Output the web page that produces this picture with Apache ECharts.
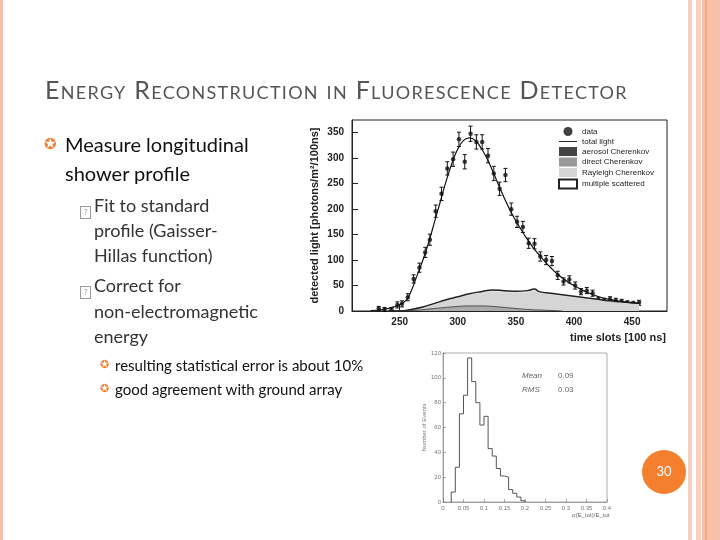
<!DOCTYPE html>
<html><head><meta charset="utf-8">
<script src="https://cdn.jsdelivr.net/npm/echarts@6/dist/echarts.min.js"></script>
<style>
body{margin:0;width:720px;height:540px;overflow:hidden;background:#fff;font-family:Lato,"Open Sans",sans-serif;}
#c{position:absolute;left:0;top:0;width:720px;height:540px;}
.t{position:absolute;white-space:nowrap;}
.bx{display:inline-block;width:9px;height:11px;border:1px solid #999;font-size:8px;line-height:11px;text-align:center;color:#999}
</style></head><body>
<div id="c"></div>
<div class="t" style="left:45px;top:74px;font-size:25px;font-variant:small-caps;color:#555;letter-spacing:1.3px">Energy Reconstruction in Fluorescence Detector</div>
<div class="t" style="left:44px;top:134px;font-size:15px;color:#F08030">✪</div>
<div class="t" style="left:65px;top:130px;font-size:20px;line-height:29px;color:#111">Measure longitudinal<br>shower profile</div>
<div class="t" style="left:80px;top:199px"><span class="bx">?</span></div>
<div class="t" style="left:94px;top:193px;font-size:18px;line-height:25px;color:#333">Fit to standard<br>profile (Gaisser-<br>Hillas function)</div>
<div class="t" style="left:80px;top:279px"><span class="bx">?</span></div>
<div class="t" style="left:94px;top:273px;font-size:18px;line-height:25.5px;color:#333">Correct for<br>non-electromagnetic<br>energy</div>
<div class="t" style="left:100px;top:357px;font-size:11px;color:#F08030">✪</div>
<div class="t" style="left:115px;top:353px;font-size:15px;line-height:24px;color:#111">resulting statistical error is about 10%<br>good agreement with ground array</div>
<div class="t" style="left:100px;top:381px;font-size:11px;color:#F08030">✪</div>
<script>
// main profile data
const dataX=[232,237,243,248,252,257,262,267,272,276,281,286,291,296,301,306,311,316,321,326,331,336,341,346,351,356,361,366,371,376,381,386,391,396,401,406,411,416,421,426,431,436,441,446,451,456];
const dataY=[5,3,3,12,14,27,63,85,115,140,196,230,280,298,337,293,348,332,332,305,270,240,267,200,175,165,133,132,107,100,98,70,58,62,50,38,40,35,22,20,23,20,18,15,14,16];
const dataErr=[4,4,4,6,6,7,8,9,10,11,12,13,13,14,14,14,15,14,14,14,14,13,13,12,11,11,10,10,9,9,9,8,7,7,7,6,6,6,5,5,5,5,5,5,5,5];
const fitX=[225,235,245,255,260,265,270,275,280,285,290,295,300,305,310,315,320,325,330,335,340,345,350,355,360,365,370,375,380,385,390,395,400,410,420,430,440,450,456];
const fitY=[1,3,8,20,40,70,100,135,175,215,255,290,318,335,340,335,320,300,275,248,222,198,177,158,140,124,110,97,85,74,65,57,50,38,29,23,19,16,15];
const scatX=[240,250,260,270,280,290,300,310,320,330,340,350,360,366,370,380,390,400,410,420,430,440,450,456];
const scatY=[0,0,3,8,15,22,28,34,38,41,40,39,40,43,38,35,32,29,26,23,20,18,16,15];
const directX=[240,260,280,300,310,320,330,340,350,360,370,380,390];
const directY=[0,1,5,9,10,10,9,7,5,3,2,1,0];
// histogram
const histEdges=[0.02,0.03,0.04,0.05,0.06,0.07,0.08,0.09,0.10,0.11,0.12,0.13,0.14,0.15,0.16,0.17,0.18,0.19,0.20];
const histCounts=[8,28,71,86,116,97,80,62,69,43,37,27,21,20,10,7,4,1];
const histTicks=[0,0.05,0.1,0.15,0.2,0.25,0.3,0.35,0.4];
const histYTicks=[0,20,40,60,80,100,120];
const mainXTicks=[250,300,350,400,450];

const pair=(xs,ys)=>xs.map((x,i)=>[x,ys[i]]);
const step=[];
step.push([histEdges[0],0]);
histCounts.forEach((v,i)=>{step.push([histEdges[i],v]);step.push([histEdges[i+1],v]);});
step.push([histEdges[histEdges.length-1],0]);

const ch=echarts.init(document.getElementById('c'));
const axisTxt={color:'#222',fontSize:10,fontWeight:'bold',fontFamily:'Liberation Sans'};
const lineIcon='path://M0,4.5L20,4.5L20,5.5L0,5.5Z';
ch.setOption({
 animation:false,
 graphic:[
  {type:'rect',shape:{x:0,y:0,width:3,height:540},style:{fill:'#F5C0AA'}},
  {type:'rect',shape:{x:688,y:0,width:4,height:540},style:{fill:'#F8D0C0'}},
  {type:'rect',shape:{x:696,y:0,width:5,height:540},style:{fill:'#F8D0C0'}},
  {type:'rect',shape:{x:702,y:0,width:18,height:540},style:{fill:'#F7C0A8'}},
  {type:'rect',shape:{x:705,y:0,width:2,height:540},style:{fill:'#F4A888'}},
  {type:'circle',shape:{cx:664,cy:472,r:22},style:{fill:'#F4802F'}},
  {type:'text',x:664,y:472,style:{text:'30',fill:'#fff',fontSize:13,align:'center',verticalAlign:'middle',fontFamily:'Lato'}},
  {type:'text',x:522,y:372,style:{text:'Mean',fill:'#666',fontSize:8,fontStyle:'italic',fontFamily:'Liberation Sans'}},
  {type:'text',x:558,y:372,style:{text:'0.09',fill:'#666',fontSize:8,fontFamily:'Liberation Sans'}},
  {type:'text',x:522,y:386,style:{text:'RMS',fill:'#666',fontSize:8,fontStyle:'italic',fontFamily:'Liberation Sans'}},
  {type:'text',x:558,y:386,style:{text:'0.03',fill:'#666',fontSize:8,fontFamily:'Liberation Sans'}},
  {type:'text',x:572,y:512,style:{text:'σ(E_tot)/E_tot',fill:'#666',fontSize:6,fontFamily:'Liberation Sans'}},
  {type:'text',x:666,y:338,style:{text:'time slots [100 ns]',fill:'#222',fontSize:11,fontWeight:'bold',align:'right',verticalAlign:'middle',fontFamily:'Liberation Sans'}}
 ],
 legend:{left:553,top:122,orient:'vertical',itemGap:1.5,itemWidth:18,itemHeight:9,
  textStyle:{fontSize:8,color:'#222',fontFamily:'Liberation Sans'},
  data:[{name:'data',icon:'circle'},{name:'total light',icon:lineIcon},{name:'aerosol Cherenkov',icon:'rect'},{name:'direct Cherenkov',icon:'rect'},{name:'Rayleigh Cherenkov',icon:'rect'},{name:'multiple scattered',icon:'rect'}]},
 grid:[{left:352,top:120,width:315,height:191,show:true,borderColor:'#222',borderWidth:1},
       {left:443,top:353,width:164,height:149,show:true,borderColor:'#777',borderWidth:0.6}],
 xAxis:[
  {gridIndex:0,type:'value',min:209,max:480,
   axisLine:{lineStyle:{color:'#222'}},splitLine:{show:false},
   axisTick:{inside:true,customValues:mainXTicks,length:6,lineStyle:{color:'#222'}},
   axisLabel:{...axisTxt,customValues:mainXTicks,margin:6}},
  {gridIndex:1,type:'value',min:0,max:0.4,interval:0.05,splitLine:{show:false},
   axisLine:{lineStyle:{color:'#777',width:0.6}},axisTick:{inside:true,length:3,lineStyle:{color:'#777',width:0.6}},
   axisLabel:{color:'#777',fontSize:6,margin:3,formatter:v=>v===0?'0':String(+v.toFixed(2))}}
 ],
 yAxis:[
  {gridIndex:0,type:'value',min:0,max:375,interval:50,name:'detected light [photons/m²/100ns]',nameLocation:'middle',nameGap:32,
   nameTextStyle:{fontSize:11,fontWeight:'bold',color:'#222',fontFamily:'Liberation Sans'},
   axisLine:{lineStyle:{color:'#222'}},splitLine:{show:false},
   axisTick:{inside:true,length:6,lineStyle:{color:'#222'}},axisLabel:{...axisTxt,margin:8,showMaxLabel:false}},
  {gridIndex:1,type:'value',min:0,max:120,interval:20,name:'Number of Events',nameLocation:'middle',nameGap:14,
   nameTextStyle:{fontSize:6,color:'#777'},splitLine:{show:false},
   axisLine:{lineStyle:{color:'#777',width:0.6}},axisTick:{inside:true,length:3,lineStyle:{color:'#777',width:0.6}},
   axisLabel:{color:'#777',fontSize:6,margin:2}}
 ],
 series:[
  {name:'multiple scattered',type:'line',xAxisIndex:0,yAxisIndex:0,data:pair(scatX,scatY),smooth:true,symbol:'none',
   lineStyle:{color:'#222',width:1.5},itemStyle:{color:'#fff',borderColor:'#222',borderWidth:1},areaStyle:{color:'#e2e2e2',opacity:1}},
  {name:'Rayleigh Cherenkov',type:'line',xAxisIndex:0,yAxisIndex:0,data:pair(scatX,scatY.map(v=>v*0.9)),smooth:true,symbol:'none',
   lineStyle:{width:0},itemStyle:{color:'#d5d5d5'},areaStyle:{color:'#d5d5d5',opacity:1}},
  {name:'direct Cherenkov',type:'line',xAxisIndex:0,yAxisIndex:0,data:pair(directX,directY),smooth:true,symbol:'none',
   lineStyle:{color:'#333',width:0.8},itemStyle:{color:'#999'},areaStyle:{color:'#aaa',opacity:1}},
  {name:'aerosol Cherenkov',type:'line',xAxisIndex:0,yAxisIndex:0,data:[],symbol:'none',itemStyle:{color:'#444'}},
  {name:'total light',type:'line',xAxisIndex:0,yAxisIndex:0,data:pair(fitX,fitY),smooth:true,symbol:'none',
   lineStyle:{color:'#111',width:1.2},itemStyle:{color:'#111'}},
  {name:'errors',type:'custom',xAxisIndex:0,yAxisIndex:0,data:dataX.map((x,i)=>[x,dataY[i],dataErr[i]]),
   renderItem:(p,api)=>{const x=api.value(0),y=api.value(1),e=api.value(2);
     const a=api.coord([x,y-e]),b=api.coord([x,y+e]);
     return {type:'group',children:[
      {type:'line',shape:{x1:a[0],y1:a[1],x2:b[0],y2:b[1]},style:{stroke:'#111',lineWidth:1}},
      {type:'line',shape:{x1:a[0]-2,y1:a[1],x2:a[0]+2,y2:a[1]},style:{stroke:'#111',lineWidth:1}},
      {type:'line',shape:{x1:b[0]-2,y1:b[1],x2:b[0]+2,y2:b[1]},style:{stroke:'#111',lineWidth:1}}]};}},
  {name:'data',type:'scatter',xAxisIndex:0,yAxisIndex:0,data:pair(dataX,dataY),symbolSize:4.5,itemStyle:{color:'#111'}},
  {name:'hist',type:'line',xAxisIndex:1,yAxisIndex:1,data:step,symbol:'none',lineStyle:{color:'#555',width:1}}
 ]
});
</script>
</body></html>
